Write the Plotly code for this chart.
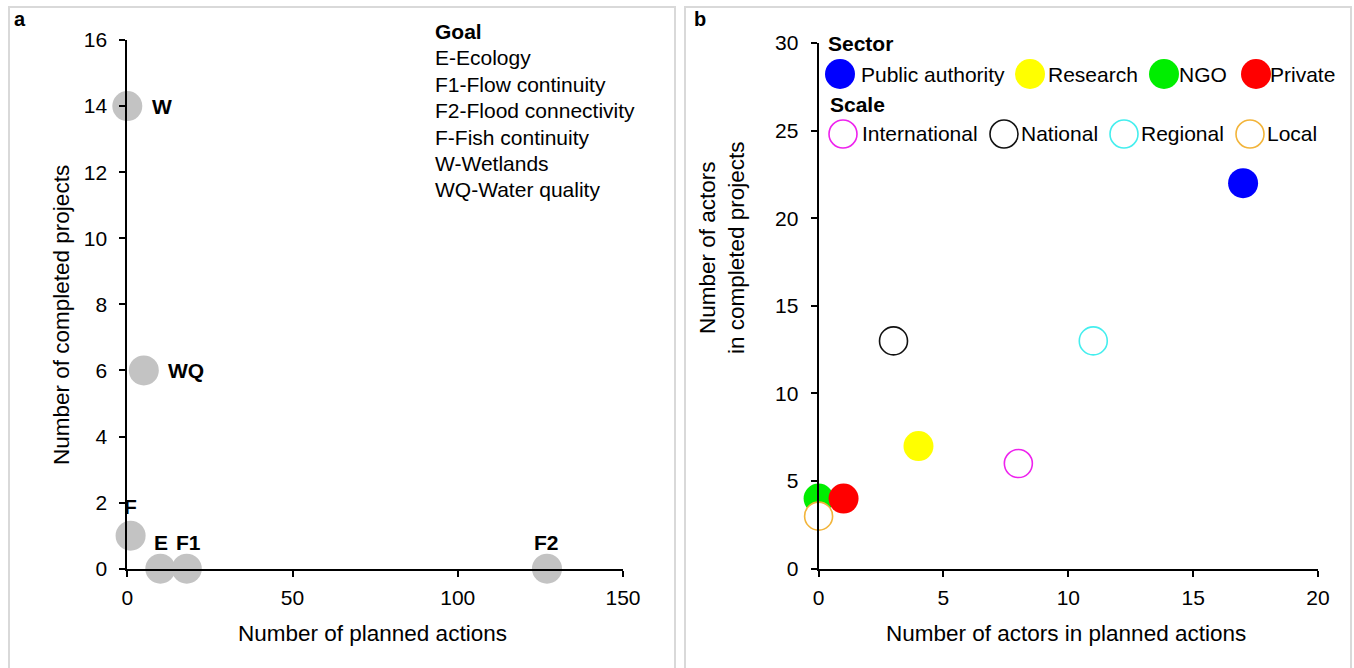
import plotly.graph_objects as go

# ---------------- data ----------------
# Panel a: goals
goal_codes = ["W", "WQ", "F", "E", "F1", "F2"]
planned_actions = [0, 5, 1, 10, 18, 127]
completed_projects = [14, 6, 1, 0, 0, 0]
goal_legend = ["E-Ecology", "F1-Flow continuity", "F2-Flood connectivity",
               "F-Fish continuity", "W-Wetlands", "WQ-Water quality"]

# Panel b: actors
sector_names = ["Public authority", "Research", "NGO", "Private"]
sector_planned = [17, 4, 0, 1]
sector_completed = [22, 7, 4, 4]
sector_colors = ["#0000ff", "#ffff00", "#00ee00", "#ff0000"]

scale_names = ["International", "National", "Regional", "Local"]
scale_planned = [8, 3, 11, 0]
scale_completed = [6, 13, 13, 3]
scale_colors = ["#ee22ee", "#111111", "#44eeee", "#f2b43a"]

# ---------------- layout helpers ----------------
W, H = 1354, 668
def px(x):
    return x / W
def py(y):
    return (H - y) / H

FONT = "Arial, Liberation Sans, sans-serif"
FS = 21
FT = 22.5
MS = 30

# label placement (style): (xanchor, xshift, yshift) per goal label
label_style = {"W": ("left", 23, 0), "WQ": ("left", 22, 0), "F": ("center", 0, 29),
               "E": ("center", 1, 26), "F1": ("center", 2, 26), "F2": ("center", 0, 26)}

fig = go.Figure()

# panel a trace
fig.add_trace(go.Scatter(
    x=planned_actions, y=completed_projects, mode="markers", text=goal_codes,
    marker=dict(size=MS, color="#c3c3c3", line=dict(width=0)),
    cliponaxis=False, showlegend=False, xaxis="x", yaxis="y", name="Goals"))

# panel b traces
for n, xv, yv, c in zip(sector_names, sector_planned, sector_completed, sector_colors):
    fig.add_trace(go.Scatter(
        x=[xv], y=[yv], mode="markers", name=n,
        marker=dict(size=MS, color=c, line=dict(width=0)),
        cliponaxis=False, showlegend=False, xaxis="x2", yaxis="y2"))
for n, xv, yv, c in zip(scale_names, scale_planned, scale_completed, scale_colors):
    fig.add_trace(go.Scatter(
        x=[xv], y=[yv], mode="markers", name=n,
        marker=dict(size=MS - 2, color="white", line=dict(width=1.6, color=c)),
        cliponaxis=False, showlegend=False, xaxis="x2", yaxis="y2"))

axis_common = dict(
    showline=True, linecolor="black", linewidth=2, showgrid=False, zeroline=False,
    ticks="outside", ticklen=6, tickwidth=2, tickcolor="black",
    tickfont=dict(family=FONT, size=FS, color="black"),
    automargin=False, fixedrange=True)
xstand = dict(ticklabelstandoff=3)
ystand = dict(ticklabelstandoff=8)

fig.update_layout(
    width=W, height=H, margin=dict(l=0, r=0, t=0, b=0, autoexpand=False),
    paper_bgcolor="white", plot_bgcolor="white", showlegend=False,
    font=dict(family=FONT, size=FS, color="black"),
    xaxis=dict(domain=[px(127.3), px(623)], range=[0, 150], dtick=50, anchor="y", **axis_common, **xstand),
    yaxis=dict(domain=[py(568.7), py(40)], range=[0, 16], dtick=2, anchor="x", **axis_common, **ystand),
    xaxis2=dict(domain=[px(818.6), px(1318)], range=[0, 20], dtick=5, anchor="y2", **axis_common, **xstand),
    yaxis2=dict(domain=[py(568.7), py(43)], range=[0, 30], dtick=5, anchor="x2", **axis_common, **ystand),
)

shapes = []
annotations = []

# goal labels next to points
for code, xv, yv in zip(goal_codes, planned_actions, completed_projects):
    xa, xs, ys = label_style[code]
    annotations.append(dict(text="<b>%s</b>" % code, x=xv, y=yv, xref="x", yref="y",
                            xanchor=xa, yanchor="middle", xshift=xs, yshift=ys,
                            showarrow=False, font=dict(size=FS)))

# panel borders
for x0, x1 in [(9, 675), (685, 1351)]:
    shapes.append(dict(type="rect", xref="paper", yref="paper",
                       x0=px(x0), x1=px(x1), y0=py(7), y1=py(675),
                       line=dict(color="#d9d9d9", width=2), fillcolor="rgba(0,0,0,0)", layer="below"))

# panel letters
annotations.append(dict(text="<b>a</b>", x=px(12), y=py(19), xref="paper", yref="paper",
                        xanchor="left", yanchor="middle", showarrow=False, font=dict(size=20)))
annotations.append(dict(text="<b>b</b>", x=px(692), y=py(19), xref="paper", yref="paper",
                        xanchor="left", yanchor="middle", showarrow=False, font=dict(size=20)))

# axis titles
annotations.append(dict(text="Number of planned actions", x=px(372), y=py(633), xref="paper", yref="paper",
                        xanchor="center", yanchor="middle", showarrow=False, font=dict(size=FT)))
annotations.append(dict(text="Number of completed projects", x=px(61), y=py(315), xref="paper", yref="paper",
                        xanchor="center", yanchor="middle", textangle=-90, showarrow=False, font=dict(size=FT)))
annotations.append(dict(text="Number of actors in planned actions", x=px(1066), y=py(633), xref="paper", yref="paper",
                        xanchor="center", yanchor="middle", showarrow=False, font=dict(size=FT)))
annotations.append(dict(text="Number of actors<br>in completed projects", x=px(722), y=py(248), xref="paper", yref="paper",
                        xanchor="center", yanchor="middle", textangle=-90, showarrow=False, font=dict(size=FT)))

# panel a goal legend (one line each)
legend_lines = ["<b>Goal</b>"] + goal_legend
for i, line in enumerate(legend_lines):
    annotations.append(dict(text=line, x=px(433), y=py(31.5 + 26.4 * i), xref="paper", yref="paper",
                            xanchor="left", yanchor="middle", align="left", showarrow=False,
                            font=dict(size=FS)))

# panel b custom legend
annotations.append(dict(text="<b>Sector</b>", x=px(826), y=py(44), xref="paper", yref="paper",
                        xanchor="left", yanchor="middle", showarrow=False, font=dict(size=FS)))
annotations.append(dict(text="<b>Scale</b>", x=px(828), y=py(104), xref="paper", yref="paper",
                        xanchor="left", yanchor="middle", showarrow=False, font=dict(size=FS)))

sector_key_x = [840, 1030, 1164, 1256]
sector_text_x = [859, 1046, 1177, 1268]
scale_key_x = [843, 1004, 1124, 1250]
scale_text_x = [860, 1019, 1139, 1265]

r = MS / 2
for name, c, kx, tx in zip(sector_names, sector_colors, sector_key_x, sector_text_x):
    shapes.append(dict(type="circle", xref="paper", yref="paper",
                       xsizemode="pixel", ysizemode="pixel",
                       xanchor=px(kx), yanchor=py(74), x0=-r, x1=r, y0=-r, y1=r,
                       fillcolor=c, line=dict(width=0)))
    annotations.append(dict(text=name, x=px(tx), y=py(74), xref="paper", yref="paper",
                            xanchor="left", yanchor="middle", showarrow=False, font=dict(size=FS)))
for name, c, kx, tx in zip(scale_names, scale_colors, scale_key_x, scale_text_x):
    shapes.append(dict(type="circle", xref="paper", yref="paper",
                       xsizemode="pixel", ysizemode="pixel",
                       xanchor=px(kx), yanchor=py(134), x0=-r + 1, x1=r - 1, y0=-r + 1, y1=r - 1,
                       fillcolor="white", line=dict(width=1.6, color=c)))
    annotations.append(dict(text=name, x=px(tx), y=py(134), xref="paper", yref="paper",
                            xanchor="left", yanchor="middle", showarrow=False, font=dict(size=FS)))

fig.update_layout(shapes=shapes, annotations=annotations)

fig.write_html("out.html", config={"displayModeBar": False},
               post_script="document.body.style.margin='0';document.body.style.overflow='hidden';")
